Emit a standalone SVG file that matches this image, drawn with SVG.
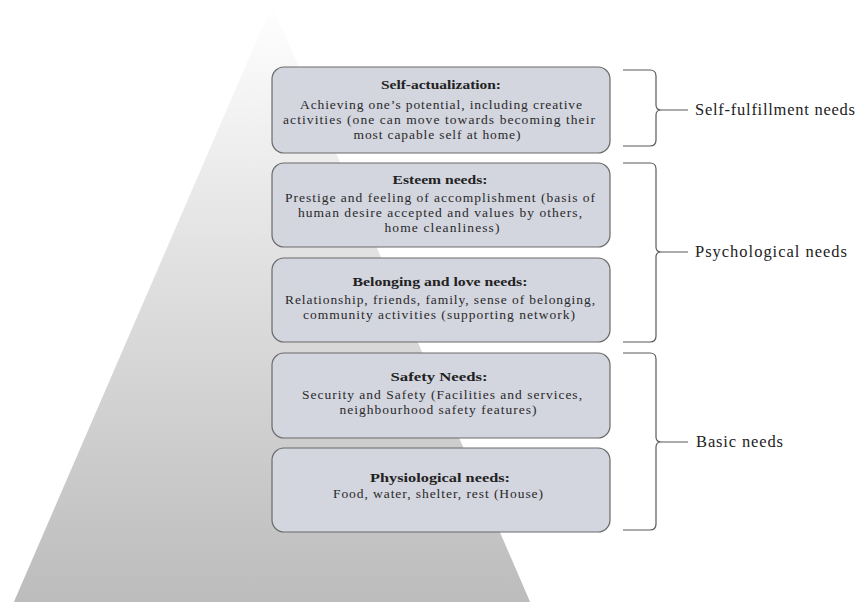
<svg xmlns="http://www.w3.org/2000/svg" width="858" height="602" viewBox="0 0 858 602">
<defs>
<linearGradient id="pyr" x1="0" y1="0" x2="0" y2="1">
<stop offset="0" stop-color="#ffffff"/>
<stop offset="0.35" stop-color="#e6e6e6"/>
<stop offset="1" stop-color="#bcbcbc"/>
</linearGradient>
<style>
.box{fill:#d3d5df;stroke:#6a6a6a;stroke-width:1.2}
.t{font-family:"Liberation Serif","Times New Roman",serif;font-size:13.5px;font-weight:bold;fill:#222;text-anchor:middle}
.b{font-family:"Liberation Serif","Times New Roman",serif;font-size:13.5px;fill:#2a2a2a;text-anchor:middle}
.lab{font-family:"Liberation Serif","Times New Roman",serif;font-size:16.5px;fill:#222}
.br{fill:none;stroke:#5a5a5a;stroke-width:1.2}
</style>
</defs>
<rect width="858" height="602" fill="#ffffff"/>
<polygon id="pyramid" points="272,5 531,604 13,604" fill="url(#pyr)"/>

<g id="self-actualization">
<rect class="box" x="272" y="67" width="338" height="86" rx="12"/>
<text class="t" x="441" y="89" textLength="120" lengthAdjust="spacingAndGlyphs">Self-actualization:</text>
<text class="b" x="441" y="109" textLength="282" lengthAdjust="spacing">Achieving one’s potential, including creative</text>
<text class="b" x="439" y="124" textLength="312" lengthAdjust="spacing">activities (one can move towards becoming their</text>
<text class="b" x="437" y="139" textLength="167" lengthAdjust="spacing">most capable self at home)</text>
</g>

<g id="esteem">
<rect class="box" x="272" y="163" width="338" height="84" rx="12"/>
<text class="t" x="440" y="184" textLength="95" lengthAdjust="spacingAndGlyphs">Esteem needs:</text>
<text class="b" x="440" y="202" textLength="310" lengthAdjust="spacing">Prestige and feeling of accomplishment (basis of</text>
<text class="b" x="440" y="217" textLength="284" lengthAdjust="spacing">human desire accepted and values by others,</text>
<text class="b" x="442" y="232" textLength="115" lengthAdjust="spacing">home cleanliness)</text>
</g>

<g id="belonging">
<rect class="box" x="272" y="258" width="338" height="84" rx="12"/>
<text class="t" x="440" y="286" textLength="175" lengthAdjust="spacingAndGlyphs">Belonging and love needs:</text>
<text class="b" x="440" y="304" textLength="310" lengthAdjust="spacing">Relationship, friends, family, sense of belonging,</text>
<text class="b" x="439" y="319" textLength="272" lengthAdjust="spacing">community activities (supporting network)</text>
</g>

<g id="safety">
<rect class="box" x="272" y="353" width="338" height="85" rx="12"/>
<text class="t" x="439" y="381" textLength="97" lengthAdjust="spacingAndGlyphs">Safety Needs:</text>
<text class="b" x="442" y="399" textLength="280" lengthAdjust="spacing">Security and Safety (Facilities and services,</text>
<text class="b" x="438" y="414" textLength="197" lengthAdjust="spacing">neighbourhood safety features)</text>
</g>

<g id="physiological">
<rect class="box" x="272" y="448" width="338" height="84" rx="12"/>
<text class="t" x="440" y="482" textLength="140" lengthAdjust="spacingAndGlyphs">Physiological needs:</text>
<text class="b" x="438" y="498" textLength="210" lengthAdjust="spacing">Food, water, shelter, rest (House)</text>
</g>

<g id="connectors">
<path class="br" d="M623,70 L650,70 Q656,70 656,76 L656,105 Q656,110 661,110 L688,110 M661,110 Q656,110 656,115 L656,140 Q656,146 650,146 L623,146"/>
<path class="br" d="M623,163 L650,163 Q656,163 656,169 L656,247 Q656,252 661,252 L688,252 M661,252 Q656,252 656,257 L656,336 Q656,342 650,342 L623,342"/>
<path class="br" d="M623,353 L650,353 Q656,353 656,359 L656,437 Q656,442 661,442 L688,442 M661,442 Q656,442 656,447 L656,524 Q656,530 650,530 L623,530"/>
</g>

<g id="label-self-fulfillment">
<text class="lab" x="695" y="115" textLength="160" lengthAdjust="spacing">Self-fulfillment needs</text>
</g>
<g id="label-psychological">
<text class="lab" x="695" y="257" textLength="152" lengthAdjust="spacing">Psychological needs</text>
</g>
<g id="label-basic">
<text class="lab" x="696" y="447" textLength="87" lengthAdjust="spacing">Basic needs</text>
</g>
</svg>
